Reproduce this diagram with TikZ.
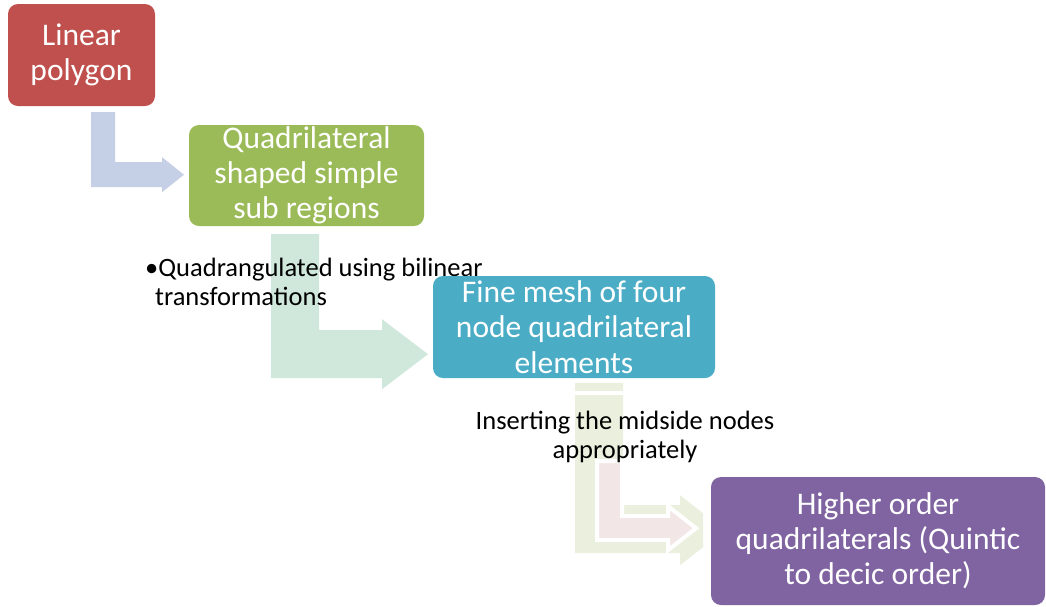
\documentclass[tikz,border=0pt]{standalone}
\usepackage{fontspec}
\setmainfont{Carlito}
\usetikzlibrary{calc}
\pgfdeclarelayer{background}
\pgfsetlayers{background,main}
\definecolor{cRed}{HTML}{C0504D}
\definecolor{cGreen}{HTML}{9BBB59}
\definecolor{cBlue}{HTML}{4BACC6}
\definecolor{cPurple}{HTML}{8064A2}
\definecolor{aBlue}{HTML}{C5CFE5}
\definecolor{aGreen}{HTML}{CFE8DB}
\definecolor{aOlive}{HTML}{EBF0DE}
\definecolor{aPink}{HTML}{F3E6E6}
\tikzset{
  procbox/.style={rectangle, rounded corners=10pt, inner sep=0pt, text=white,
    align=center, font=\fontsize{31.5}{35.2}\selectfont},
  notetext/.style={inner sep=0pt, text=black, font=\fontsize{26.5}{28.8}\selectfont},
  bentarrow/.style={draw=none},
  ghostarrow/.style={draw=white, line width=4pt, line join=miter},
}
\begin{document}
\begin{tikzpicture}[x=1pt,y=-1pt]
\useasboundingbox (0,0) rectangle (1046,606);
% notes (under the boxes, over the arrows)
\node[notetext, anchor=north west, align=left] (t1) at (145,258)
  {•Quadrangulated using bilinear\\\hspace*{10pt}transformations};
\node[notetext, anchor=north, align=center] (t2) at (625,411)
  {Inserting the midside nodes\\appropriately};
% boxes
\node[procbox, fill=cRed, minimum width=147pt, minimum height=102pt] (b1) at (81.5,55) {Linear\\polygon};
\node[procbox, fill=cGreen, minimum width=235pt, minimum height=101pt] (b2) at (306.5,175.5) {Quadrilateral\\shaped simple\\sub regions};
\node[procbox, fill=cBlue, minimum width=282pt, minimum height=102pt] (b3) at (574,327) {Fine mesh of four\\node quadrilateral\\elements};
\node[procbox, fill=cPurple, minimum width=334pt, minimum height=128pt] (b4) at (878,541) {Higher order\\quadrilaterals (Quintic\\to decic order)};
\begin{pgfonlayer}{background}
\fill[white] (0,0) rectangle (1046,606);
% arrow 1
\fill[aBlue, bentarrow] ($(b1.south)+(9.5,6)$) -- ++(24,0) -- ++(0,50) -- ++(47,0) -- ++(0,-5)
  -- ++(22,17.5) -- ++(-22,17.5) -- ++(0,-5) -- ++(-71,0) -- cycle;
% arrow 2
\fill[aGreen, bentarrow] ($(b2.south)+(-35.5,8)$) -- ++(48,0) -- ++(0,96) -- ++(63,0) -- ++(0,-11)
  -- ++(46,35) -- ++(-46,35) -- ++(0,-11) -- ++(-111,0) -- cycle;
% arrow 3 (faded)
\fill[aOlive, bentarrow] ($(b3.south)+(1,5)$) -- ++(48,0) -- ++(0,122) -- ++(57,0) -- ++(0,-10)
  -- ++(23,18) -- ++(0,34) -- ++(-23,18) -- ++(0,-12) -- ++(-105,0) -- cycle;
\fill[white] ($(b3.south)+(1,13)$) rectangle ++(48,4);
\filldraw[aPink, ghostarrow] ($(b3.south)+(23,83)$) -- ++(25,0) -- ++(0,55) -- ++(46,0) -- ++(0,-10)
  -- ++(28,22) -- ++(-28,22) -- ++(0,-10) -- ++(-71,0) -- cycle;
\end{pgfonlayer}
\end{tikzpicture}
\end{document}
